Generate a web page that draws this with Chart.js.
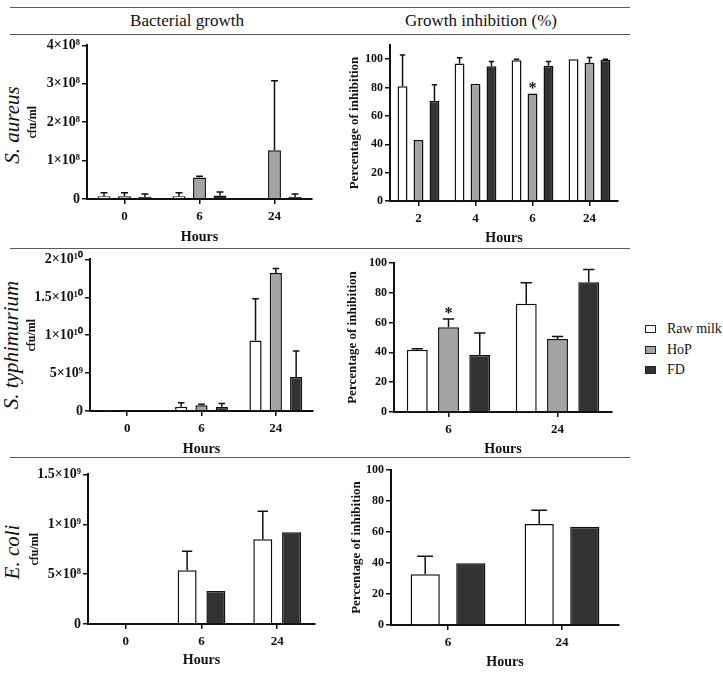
<!DOCTYPE html>
<html><head><meta charset="utf-8">
<script src="https://cdn.jsdelivr.net/npm/chart.js@4.4.0/dist/chart.umd.min.js"></script>
<style>
html,body{margin:0;padding:0;background:#fff;}
#wrap{position:relative;width:723px;height:673px;overflow:hidden;font-family:"Liberation Serif",serif;color:#111;}
.hl{position:absolute;left:10px;width:620px;height:0;border-top:1.5px solid #5a5a5a;}
.hdr{position:absolute;font-size:17px;transform:translate(-50%,-50%);white-space:nowrap;}
.row{position:absolute;font-size:21px;font-style:italic;white-space:nowrap;transform:translate(-50%,-50%) rotate(-90deg);}
canvas{position:absolute;}
.leg{position:absolute;left:645px;font-size:14px;display:flex;align-items:center;white-space:nowrap;transform:translateY(-50%);}
.leg i{display:inline-block;width:9px;height:6px;border:1.5px solid #222;margin-right:11px;}
</style></head>
<body>
<div id="wrap">
  <div class="hl" style="top:7px"></div>
  <div class="hl" style="top:34px"></div>
  <div class="hl" style="top:248px"></div>
  <div class="hl" style="top:457px"></div>
  <div class="hdr" style="left:187px;top:21px">Bacterial growth</div>
  <div class="hdr" style="left:481px;top:21px">Growth inhibition (%)</div>
  <div class="row" style="left:12px;top:125px">S. aureus</div>
  <div class="row" style="left:11px;top:345px">S. typhimurium</div>
  <div class="row" style="left:12px;top:552px">E. coli</div>
  <canvas id="c1"></canvas>
  <canvas id="c2"></canvas>
  <canvas id="c3"></canvas>
  <canvas id="c4"></canvas>
  <canvas id="c5"></canvas>
  <canvas id="c6"></canvas>
  <div class="leg" style="top:329px"><i style="background:#ffffff"></i>Raw milk</div>
  <div class="leg" style="top:350px"><i style="background:#a4a4a4"></i>HoP</div>
  <div class="leg" style="top:370px"><i style="background:#333333"></i>FD</div>
</div>
<script>
// ---------- data ----------
const seriesNames = ['Raw milk', 'HoP', 'FD'];
const seriesColors = ['#ffffff', '#a4a4a4', '#333333'];

// S. aureus – bacterial growth (cfu/ml)
const aureusHours = ['0', '6', '24'];
const aureusRaw = [7e6, 7e6, 2e6];
const aureusRawSd = [9e6, 9e6, 0];
const aureusHoP = [7e6, 5.6e7, 1.27e8];
const aureusHoPSd = [9e6, 3e6, 1.81e8];
const aureusFD = [5e6, 9e6, 5e6];
const aureusFDSd = [8e6, 9e6, 8e6];
const aureusTickVals = [0, 1e8, 2e8, 3e8, 4e8];
const aureusTickLabels = ['0', '1×10⁸', '2×10⁸', '3×10⁸', '4×10⁸'];

// S. aureus – growth inhibition (%)
const aureusInhHours = ['2', '4', '6', '24'];
const aureusInhRaw = [81, 97, 99.3, 100];
const aureusInhRawSd = [22, 4, 0.7, 0];
const aureusInhHoP = [43, 82.6, 75.8, 97.4];
const aureusInhHoPSd = [0, 0, 0, 3.8];
const aureusInhFD = [70.6, 95, 95.3, 99.5];
const aureusInhFDSd = [11.3, 3.4, 3.1, 0.4];
const aureusInhStars = [{ series: 1, index: 2 }];

// S. typhimurium – bacterial growth (cfu/ml)
const typhiHours = ['0', '6', '24'];
const typhiRaw = [5e7, 5.7e8, 9.3e9];
const typhiRawSd = [0, 5.3e8, 5.5e9];
const typhiHoP = [0, 7.5e8, 1.82e10];
const typhiHoPSd = [0, 1.3e8, 6e8];
const typhiFD = [0, 5.7e8, 4.5e9];
const typhiFDSd = [0, 4.3e8, 3.4e9];
const typhiTickVals = [0, 5e9, 1e10, 1.5e10, 2e10];
const typhiTickLabels = ['0', '5×10⁹', '1×10¹⁰', '1.5×10¹⁰', '2×10¹⁰'];

// S. typhimurium – growth inhibition (%)
const typhiInhHours = ['6', '24'];
const typhiInhRaw = [41.8, 72.7];
const typhiInhRawSd = [0.7, 14.1];
const typhiInhHoP = [56.8, 49];
const typhiInhHoPSd = [5.6, 1.6];
const typhiInhFD = [38.3, 87];
const typhiInhFDSd = [14.7, 8.7];
const typhiInhStars = [{ series: 1, index: 0 }];

// E. coli – bacterial growth (cfu/ml)
const coliHours = ['0', '6', '24'];
const coliRaw = [8e6, 5.4e8, 8.5e8];
const coliRawSd = [0, 1.9e8, 2.8e8];
const coliFD = [null, 3.3e8, 9.2e8];
const coliFDSd = [0, 0, 0];
const coliTickVals = [0, 5e8, 1e9, 1.5e9];
const coliTickLabels = ['0', '5×10⁸', '1×10⁹', '1.5×10⁹'];

// E. coli – growth inhibition (%)
const coliInhHours = ['6', '24'];
const coliInhRaw = [32.7, 65.2];
const coliInhRawSd = [11.6, 8.8];
const coliInhFD = [39.8, 63.4];
const coliInhFDSd = [0, 0];

const pctTickVals = [0, 20, 40, 60, 80, 100];
const pctTickLabels = ['0', '20', '40', '60', '80', '100'];

// ---------- drawing ----------
const FONT = '"Liberation Serif", serif';
const INK = '#111111';

const errPlugin = {
  id: 'err',
  afterDatasetsDraw(chart, args, opts) {
    const ctx = chart.ctx, ys = chart.scales.y;
    ctx.save();
    ctx.strokeStyle = INK;
    ctx.lineWidth = 1.5;
    chart.data.datasets.forEach((ds, i) => {
      const meta = chart.getDatasetMeta(i);
      meta.data.forEach((bar, j) => {
        const v = ds.data[j];
        const e = ds.sd ? ds.sd[j] : 0;
        if (v == null || !e) return;
        const yt = ys.getPixelForValue(v + e);
        const hw = bar.width * 0.27;
        ctx.beginPath();
        ctx.moveTo(bar.x, bar.y);
        ctx.lineTo(bar.x, yt);
        ctx.moveTo(bar.x - hw, yt);
        ctx.lineTo(bar.x + hw, yt);
        ctx.stroke();
      });
    });
    (opts.stars || []).forEach(s => {
      const ds = chart.data.datasets[s.series];
      const bar = chart.getDatasetMeta(s.series).data[s.index];
      const top = ds.data[s.index] + (ds.sd ? ds.sd[s.index] : 0);
      const y = ys.getPixelForValue(top);
      ctx.fillStyle = INK;
      ctx.font = 'bold 16px ' + FONT;
      ctx.textAlign = 'center';
      ctx.textBaseline = 'alphabetic';
      ctx.fillText('*', bar.x, y - 1);
    });
    ctx.restore();
  }
};

function makePanel(id, g, cfg) {
  const c = document.getElementById(id);
  const left = g.L - g.YW, top = g.T - g.PT;
  const w = g.YW + (g.R - g.L) + g.PR, h = g.PT + (g.B - g.T) + g.XH;
  c.width = w; c.height = h;
  c.style.left = left + 'px'; c.style.top = top + 'px';
  c.style.width = w + 'px'; c.style.height = h + 'px';
  new Chart(c, {
    type: 'bar',
    data: {
      labels: cfg.labels,
      datasets: cfg.series.map(s => ({
        label: s.name, data: s.data, sd: s.sd,
        backgroundColor: s.color, borderColor: INK, borderWidth: 1.5,
        categoryPercentage: cfg.cat, barPercentage: cfg.bar
      }))
    },
    options: {
      responsive: false, animation: false, devicePixelRatio: 1,
      layout: { padding: { top: g.PT, right: g.PR, left: 0, bottom: 0 } },
      plugins: { legend: { display: false }, tooltip: { enabled: false }, err: { stars: cfg.stars || [] } },
      scales: {
        x: {
          grid: { offset: false, drawOnChartArea: false, drawTicks: true, tickLength: 5, color: INK, lineWidth: 1.5 },
          border: { color: INK, width: 2 },
          ticks: { font: { family: FONT, size: 13, weight: 'bold' }, color: INK, padding: 5, maxRotation: 0 },
          title: { display: true, text: 'Hours', font: { family: FONT, size: 14, weight: 'bold' }, color: INK, padding: 0 },
          afterFit(s) { s.height = g.XH; }
        },
        y: {
          min: 0, max: cfg.max,
          afterBuildTicks(s) { s.ticks = cfg.tickVals.map(v => ({ value: v })); },
          ticks: {
            font: { family: FONT, size: cfg.tickSize, weight: 'bold' }, color: INK, padding: 2,
            callback: (v, i) => cfg.tickLabels[i]
          },
          grid: { drawOnChartArea: false, drawTicks: true, tickLength: 5, color: INK, lineWidth: 1.5 },
          border: { color: INK, width: 2 },
          title: { display: true, text: cfg.ytitle, font: { family: FONT, size: cfg.ytitleSize, weight: 'bold' }, color: INK, padding: 0 },
          afterFit(s) { s.width = g.YW; }
        }
      }
    },
    plugins: [errPlugin]
  });
}

const three = (a, as, b, bs, c, cs) => [
  { name: seriesNames[0], color: seriesColors[0], data: a, sd: as },
  { name: seriesNames[1], color: seriesColors[1], data: b, sd: bs },
  { name: seriesNames[2], color: seriesColors[2], data: c, sd: cs }
];
const two = (a, as, c, cs) => [
  { name: seriesNames[0], color: seriesColors[0], data: a, sd: as },
  { name: seriesNames[2], color: seriesColors[2], data: c, sd: cs }
];

function drawAll() {
  makePanel('c1', { L: 87, R: 312, T: 45, B: 199, YW: 61, PT: 10, PR: 8, XH: 47 }, {
    labels: aureusHours, series: three(aureusRaw, aureusRawSd, aureusHoP, aureusHoPSd, aureusFD, aureusFDSd),
    max: 4e8, tickVals: aureusTickVals, tickLabels: aureusTickLabels, tickSize: 14, ytitle: 'cfu/ml', ytitleSize: 12, cat: 0.82, bar: 0.63
  });
  makePanel('c2', { L: 390, R: 618, T: 45, B: 201, YW: 43, PT: 10, PR: 8, XH: 46 }, {
    labels: aureusInhHours, series: three(aureusInhRaw, aureusInhRawSd, aureusInhHoP, aureusInhHoPSd, aureusInhFD, aureusInhFDSd),
    max: 110, tickVals: pctTickVals, tickLabels: pctTickLabels, tickSize: 12, ytitle: 'Percentage of inhibition', ytitleSize: 13, cat: 0.84, bar: 0.62,
    stars: aureusInhStars
  });
  makePanel('c3', { L: 90, R: 313, T: 259, B: 411, YW: 65, PT: 10, PR: 8, XH: 47 }, {
    labels: typhiHours, series: three(typhiRaw, typhiRawSd, typhiHoP, typhiHoPSd, typhiFD, typhiFDSd),
    max: 2e10, tickVals: typhiTickVals, tickLabels: typhiTickLabels, tickSize: 14, ytitle: 'cfu/ml', ytitleSize: 12, cat: 0.82, bar: 0.6
  });
  makePanel('c4', { L: 394, R: 612, T: 263, B: 412, YW: 49, PT: 10, PR: 8, XH: 46 }, {
    labels: typhiInhHours, series: three(typhiInhRaw, typhiInhRawSd, typhiInhHoP, typhiInhHoPSd, typhiInhFD, typhiInhFDSd),
    max: 100, tickVals: pctTickVals, tickLabels: pctTickLabels, tickSize: 12, ytitle: 'Percentage of inhibition', ytitleSize: 13, cat: 0.86, bar: 0.67,
    stars: typhiInhStars
  });
  makePanel('c5', { L: 88, R: 315, T: 474, B: 624, YW: 60, PT: 10, PR: 8, XH: 45 }, {
    labels: coliHours, series: two(coliRaw, coliRawSd, coliFD, coliFDSd),
    max: 1.5e9, tickVals: coliTickVals, tickLabels: coliTickLabels, tickSize: 14, ytitle: 'cfu/ml', ytitleSize: 12, cat: 0.76, bar: 0.66
  });
  makePanel('c6', { L: 391, R: 619, T: 470, B: 625, YW: 42, PT: 10, PR: 8, XH: 46 }, {
    labels: coliInhHours, series: two(coliInhRaw, coliInhRawSd, coliInhFD, coliInhFDSd),
    max: 100, tickVals: pctTickVals, tickLabels: pctTickLabels, tickSize: 12, ytitle: 'Percentage of inhibition', ytitleSize: 13, cat: 0.8, bar: 0.64
  });
}

if (document.fonts && document.fonts.load) {
  Promise.all([
    document.fonts.load('bold 13px "Liberation Serif"'),
    document.fonts.load('13px "Liberation Serif"')
  ]).then(drawAll, drawAll);
} else {
  drawAll();
}
</script>
</body></html>
